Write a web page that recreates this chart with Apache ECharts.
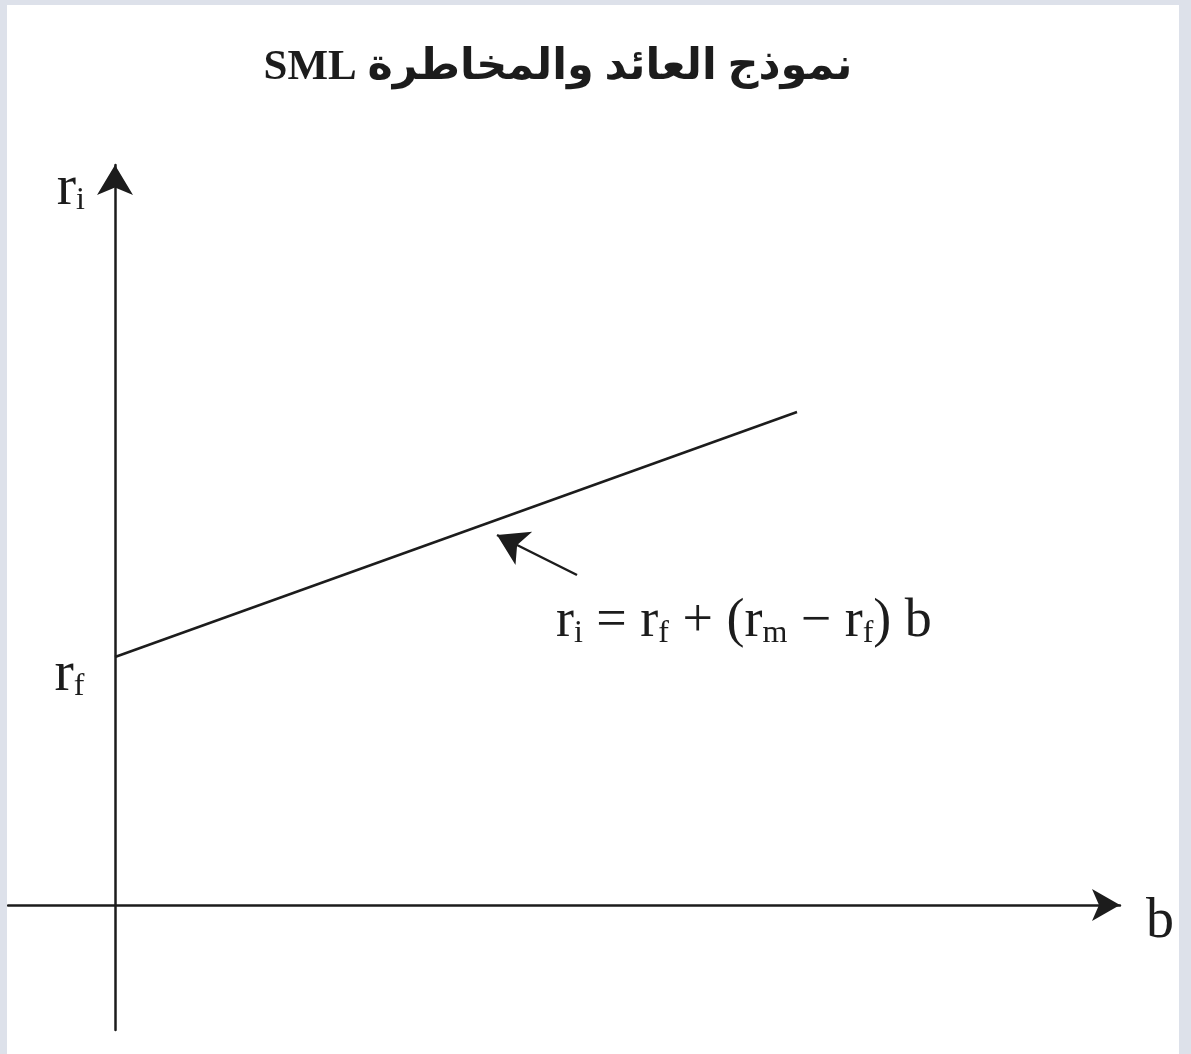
<!DOCTYPE html>
<html>
<head>
<meta charset="utf-8">
<script src="https://cdn.jsdelivr.net/npm/echarts@6/dist/echarts.min.js"></script>
<style>
  html, body { margin: 0; padding: 0; background: #dde1ea; }
  #chart { position: absolute; left: 7px; top: 5px; width: 1172px; height: 1049px; background: #fff; }
</style>
</head>
<body>
<div id="chart"></div>
<script>
// axis ranges (b horizontally, r vertically)
var bRange = [-107, 1005];
var rRange = [-125, 740];

// security market line: r_f at b = 0, rising to the right
var smlB = [0, 682];
var smlR = [248, 493];

// small arrow pointing at the line
var pointerTail = [462, 330];
var pointerHead = [382, 370];

// canvas draws left to right, so the Latin part goes first to land on the left
var titleText = 'SML نموذج العائد والمخاطرة';

var ink = '#1c1c1c';
var serif = '"Liberation Serif", "DejaVu Serif", serif';

var chart = echarts.init(document.getElementById('chart'));

var sub = function (size, pad) {
  return { fontSize: size, fontFamily: serif, color: ink, padding: [pad, 0, 0, 0] };
};

var option = {
  animation: false,
  title: {
    text: titleText,
    left: 546,
    top: 36,
    textAlign: 'center',
    textStyle: {
      fontSize: 43,
      fontWeight: 'bold',
      color: ink,
      fontFamily: '"Liberation Serif", "DejaVu Sans", serif'
    }
  },
  grid: { left: 1, right: 59, top: 160, bottom: 24 },
  xAxis: {
    type: 'value',
    min: bRange[0],
    max: bRange[1],
    name: '{m|b}',
    nameLocation: 'end',
    nameGap: 26,
    nameTextStyle: {
      rich: { m: { fontSize: 56, fontFamily: serif, color: ink, padding: [34, 0, 0, 0] } }
    },
    axisLine: {
      onZero: true,
      symbol: ['none', 'arrow'],
      symbolSize: [24, 28],
      lineStyle: { color: ink, width: 2.5 }
    },
    axisTick: { show: false },
    axisLabel: { show: false },
    splitLine: { show: false }
  },
  yAxis: {
    type: 'value',
    min: rRange[0],
    max: rRange[1],
    name: '{m|r}{s|i}',
    nameLocation: 'end',
    nameGap: 5,
    nameTextStyle: {
      align: 'right',
      verticalAlign: 'top',
      padding: [0, 30, 0, 0],
      rich: { m: { fontSize: 58, fontFamily: serif, color: ink }, s: sub(32, 24) }
    },
    axisLine: {
      onZero: true,
      symbol: ['none', 'arrow'],
      symbolSize: [27, 30],
      lineStyle: { color: ink, width: 2.5 }
    },
    axisTick: { show: false },
    axisLabel: { show: false },
    splitLine: { show: false }
  },
  series: [
    {
      type: 'line',
      data: smlB.map(function (b, i) { return [b, smlR[i]]; }),
      symbol: 'none',
      lineStyle: { color: ink, width: 2.5 },
      markPoint: {
        symbol: 'circle',
        symbolSize: 1,
        itemStyle: { color: 'rgba(0,0,0,0)' },
        data: [{
          coord: [smlB[0], smlR[0]],
          label: {
            show: true,
            position: 'left',
            distance: 30,
            offset: [0, 18],
            formatter: '{m|r}{s|f}',
            rich: { m: { fontSize: 58, fontFamily: serif, color: ink }, s: sub(32, 24) }
          }
        }]
      },
      markLine: {
        silent: true,
        symbol: ['none', 'arrow'],
        symbolSize: [28, 30],
        lineStyle: { color: ink, width: 2.5, type: 'solid' },
        label: { show: false },
        data: [[{ coord: pointerTail }, { coord: pointerHead }]]
      }
    }
  ],
  graphic: [{
    type: 'text',
    left: 549,
    top: 590,
    style: {
      text: '{m|r}{s|i}{m| = r}{s|f}{m| + (r}{s|m}{m| − r}{s|f}{m|) b}',
      rich: {
        m: { fontSize: 54, fontFamily: serif, fill: ink },
        s: { fontSize: 32, fontFamily: serif, fill: ink, padding: [24, 0, 0, 0] }
      }
    }
  }]
};

chart.setOption(option);
</script>
</body>
</html>
